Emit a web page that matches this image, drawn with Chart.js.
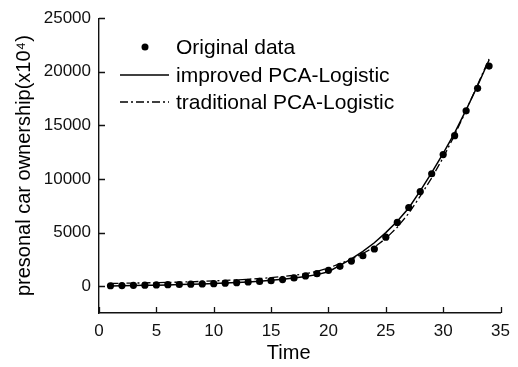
<!DOCTYPE html>
<html lang="en">
<head>
    <meta charset="UTF-8">
    <title>PCA-Logistic</title>
    <style>
        html, body { margin: 0; padding: 0; background: #fff; }
        #wrap { width: 518px; height: 367px; }
    </style>
    <script src="https://cdn.jsdelivr.net/npm/chart.js"></script>
</head>
<body>
<div id="wrap"><canvas id="chart" width="518" height="367"></canvas></div>
<script>
    const time = [1,2,3,4,5,6,7,8,9,10,11,12,13,14,15,16,17,18,19,20,21,22,23,24,25,26,27,28,29,30,31,32,33,34];
    const original = [40,60,80,100,120,140,160,190,210,240,280,330,390,450,520,620,770,960,1170,1480,1850,2340,2840,3470,4570,5950,7340,8830,10490,12280,14040,16360,18460,20530];
    const improved = [20,40,60,80,100,120,150,180,210,250,290,340,400,470,550,640,760,900,1080,1350,1950,2550,3250,4050,5000,6050,7300,8900,10600,12400,14300,16450,18700,21100];
    const traditional = [250,270,290,310,330,350,380,410,450,490,540,590,650,720,800,900,1020,1170,1380,1700,2100,2500,3050,3650,4450,5500,6800,8400,10100,12000,14100,16400,18800,21200];
    const xTicks = [0,5,10,15,20,25,30,35];
    const yTicks = [0,5000,10000,15000,20000,25000];

    const FONT = "'Liberation Sans', Arial, sans-serif";
    const pts = arr => time.map((t, i) => ({x: t, y: arr[i]}));

    // ticks pointing into the plot + legend in the upper left
    const extras = {
        id: 'extras',
        afterDraw(chart) {
            const ctx = chart.ctx;
            const xs = chart.scales.x, ys = chart.scales.y;
            const left = chart.chartArea.left, bottom = chart.chartArea.bottom;
            ctx.save();
            ctx.strokeStyle = '#111';
            ctx.lineWidth = 1.3;
            ctx.beginPath();
            xTicks.forEach(v => {
                const px = Math.round(xs.getPixelForValue(v)) + 0.5;
                ctx.moveTo(px, bottom); ctx.lineTo(px, bottom - 6);
            });
            yTicks.forEach(v => {
                const py = Math.round(ys.getPixelForValue(v)) + 0.5;
                ctx.moveTo(left, py); ctx.lineTo(left + 6, py);
            });
            ctx.stroke();

            // legend
            ctx.font = '21px ' + FONT;
            ctx.fillStyle = '#000';
            ctx.textBaseline = 'middle';
            const rows = [47, 75, 102];
            chart.data.datasets.forEach((ds, i) => {
                const y = rows[i];
                if (ds.showLine === false) {
                    ctx.beginPath();
                    ctx.arc(145, y, 3.5, 0, Math.PI * 2);
                    ctx.fill();
                } else {
                    ctx.save();
                    ctx.strokeStyle = '#000';
                    ctx.lineWidth = 1.5;
                    ctx.setLineDash(ds.borderDash || []);
                    ctx.beginPath();
                    ctx.moveTo(120, y); ctx.lineTo(169, y);
                    ctx.stroke();
                    ctx.restore();
                }
                ctx.fillText(ds.label, 176, y + 1);
            });
            ctx.restore();
        }
    };

    new Chart(document.getElementById('chart'), {
        type: 'line',
        data: {
            datasets: [
                {
                    label: 'Original data',
                    data: pts(original),
                    showLine: false,
                    pointRadius: 3.6,
                    pointBackgroundColor: '#000',
                    pointBorderWidth: 0
                },
                {
                    label: 'improved PCA-Logistic',
                    data: pts(improved),
                    borderColor: '#000',
                    borderWidth: 1.5,
                    pointRadius: 0,
                    tension: 0
                },
                {
                    label: 'traditional PCA-Logistic',
                    data: pts(traditional),
                    borderColor: '#000',
                    borderWidth: 1.3,
                    borderDash: [8, 3, 2, 3],
                    pointRadius: 0,
                    tension: 0
                }
            ]
        },
        options: {
            responsive: false,
            animation: false,
            layout: { padding: { top: 4, right: 14, left: 12, bottom: 2 } },
            plugins: { legend: { display: false }, tooltip: { enabled: false } },
            scales: {
                x: {
                    type: 'linear',
                    min: 0, max: 35,
                    afterBuildTicks: s => { s.ticks = xTicks.map(v => ({value: v})); },
                    afterFit: s => { s.height = 52; },
                    grid: { display: false, drawTicks: false },
                    border: { display: true, color: '#111', width: 1.4 },
                    ticks: { color: '#111', font: { family: FONT, size: 17 }, padding: 8 },
                    title: { display: true, text: 'Time    ', color: '#000', font: { family: FONT, size: 20 }, padding: { top: 2, bottom: 0 } }
                },
                y: {
                    min: -2500, max: 25000,
                    afterBuildTicks: s => { s.ticks = yTicks.map(v => ({value: v})); },
                    afterFit: s => { s.width = 87; },
                    grid: { display: false, drawTicks: false },
                    border: { display: true, color: '#111', width: 1.4 },
                    ticks: { color: '#111', font: { family: FONT, size: 17 }, padding: 8, callback: v => String(v) },
                    title: { display: true, text: 'presonal car ownership(x10\u2074)', color: '#000', font: { family: FONT, size: 20 }, padding: { top: 0, bottom: 0 } }
                }
            }
        },
        plugins: [extras]
    });
</script>
</body>
</html>
